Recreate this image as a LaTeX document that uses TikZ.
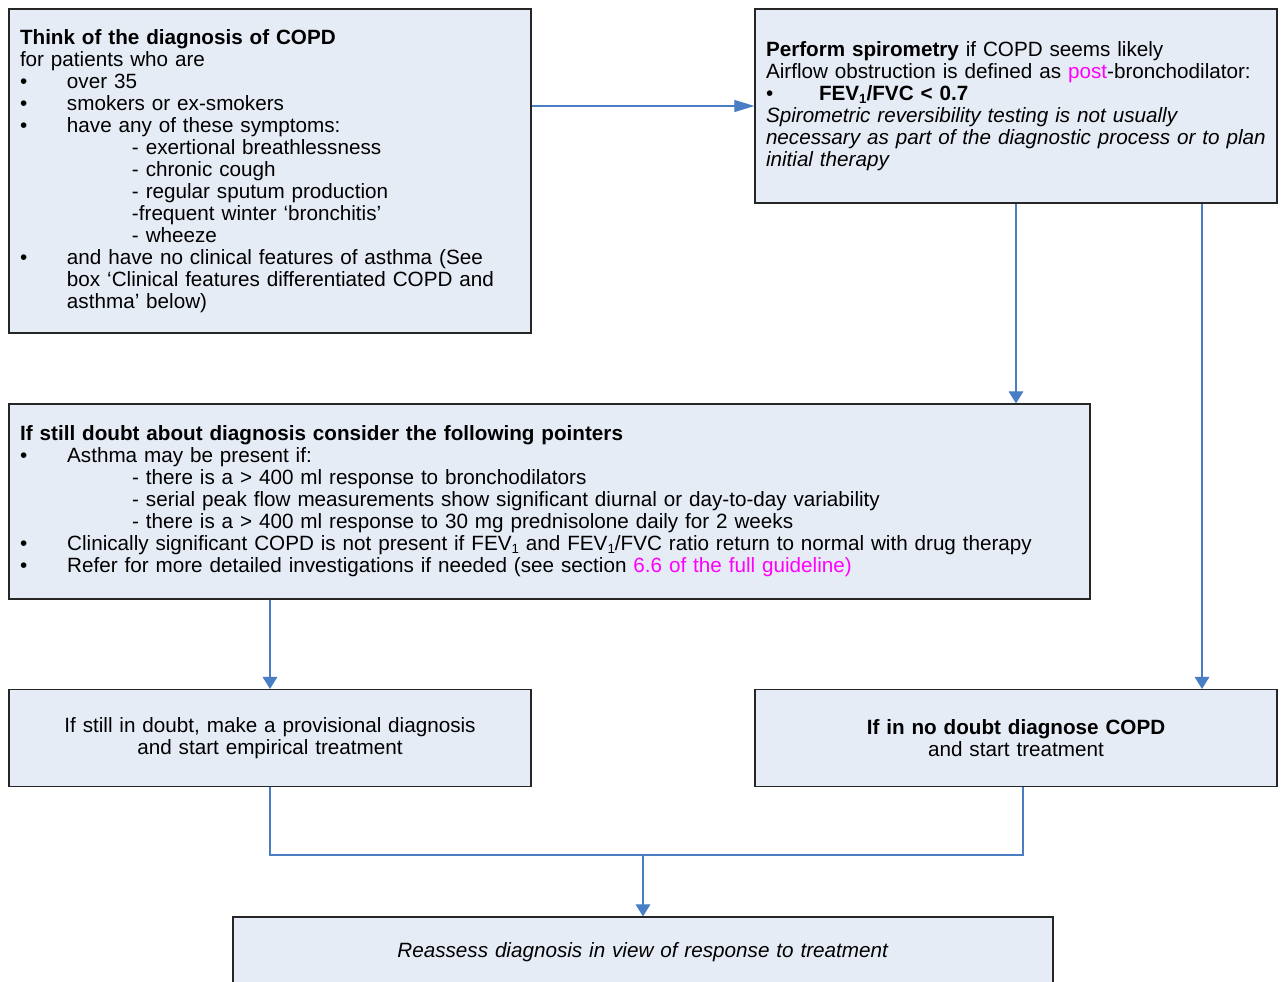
\documentclass[tikz,border=0pt]{standalone}
\usepackage{fontspec}
\setmainfont{Liberation Sans}
\usetikzlibrary{arrows.meta}
\definecolor{boxfill}{HTML}{E6ECF6}
\definecolor{connc}{HTML}{4A7EC4}
\definecolor{mag}{HTML}{FF00FF}
\newcommand{\bulit}[1]{\makebox[35.25pt][l]{\textbullet}#1}
\newcommand{\subit}[1]{\hspace*{84pt}#1}
\newcommand{\contit}[1]{\hspace*{35.25pt}#1}
\newcommand{\subone}{\raisebox{-2pt}{\fontsize{10}{10}\selectfont 1}}
\begin{document}
\begin{tikzpicture}[x=0.75pt,y=-0.75pt,
  box/.style={draw=black!85, line width=0.9pt, fill=boxfill, rectangle,
    inner xsep=8.25pt, inner ysep=0pt,
    font=\fontsize{15.5}{16.5}\selectfont},
  conn/.style={draw=connc, line width=0.8pt},
  arr/.style={conn, -{Triangle[length=9pt,width=11pt]}},
  harr/.style={conn, -{Triangle[length=15pt,width=9pt]}},
]
\clip (0,0) rectangle (1282,982);
\fill[white] (0,0) rectangle (1282,982);

\node[box, minimum width=391.5pt, minimum height=243pt, text width=375pt, align=left] (A) at (270,171) {%
\textbf{Think of the diagnosis of COPD}\\
for patients who are\\
\bulit{over 35}\\
\bulit{smokers or ex-smokers}\\
\bulit{have any of these symptoms:}\\
\subit{- exertional breathlessness}\\
\subit{- chronic cough}\\
\subit{- regular sputum production}\\
\subit{-frequent winter ‘bronchitis’}\\
\subit{- wheeze}\\
\bulit{and have no clinical features of asthma (See}\\
\contit{box ‘Clinical features differentiated COPD and}\\
\contit{asthma’ below)}};

\node[box, minimum width=391.5pt, minimum height=145.5pt, text width=375pt, align=left] (B) at (1016,106) {%
\textbf{Perform spirometry} if COPD seems likely\\
Airflow obstruction is defined as \textcolor{mag}{post}-bronchodilator:\\
\makebox[39.75pt][l]{\textbullet}\textbf{FEV\subone/FVC < 0.7}\\
\textit{Spirometric reversibility testing is not usually}\\
\textit{necessary as part of the diagnostic process or to plan}\\
\textit{initial therapy}};

\node[box, minimum width=810.75pt, minimum height=146.25pt, text width=794pt, align=left] (C) at (549.5,501.5) {%
\textbf{If still doubt about diagnosis consider the following pointers}\\
\bulit{Asthma may be present if:}\\
\subit{- there is a > 400 ml response to bronchodilators}\\
\subit{- serial peak flow measurements show significant diurnal or day-to-day variability}\\
\subit{- there is a > 400 ml response to 30 mg prednisolone daily for 2 weeks}\\
\bulit{Clinically significant COPD is not present if FEV\subone{} and FEV\subone/FVC ratio return to normal with drug therapy}\\
\bulit{Refer for more detailed investigations if needed (see section \textcolor{mag}{6.6 of the full guideline)}}};

\node[box, minimum width=391.5pt, minimum height=72.75pt, text width=375pt, align=center] (D) at (270,738) {%
If still in doubt, make a provisional diagnosis\\
and start empirical treatment};

\node[box, minimum width=391.5pt, minimum height=72.75pt, text width=375pt, align=center] (E) at (1016,738) {%
\textbf{If in no doubt diagnose COPD}\\
and start treatment};

\node[box, minimum width=615pt, minimum height=52.5pt, text width=598pt, align=center] (F) at (643,952) {%
\textit{Reassess diagnosis in view of response to treatment}};

\coordinate (bx) at (1202,0);
\coordinate (er) at (1023,0);
\coordinate (j) at (643,855);

\draw[harr] (A.east |- B.west) -- (B.west);
\draw[arr] (B.south) -- (B.south |- C.north);
\draw[arr] (bx |- B.south) -- (bx |- E.north);
\draw[arr] (D.north |- C.south) -- (D.north);
\draw[conn] (D.south) |- (j);
\draw[conn] (er |- E.south) |- (j);
\draw[arr] (j) -- (F.north);
\end{tikzpicture}
\end{document}
